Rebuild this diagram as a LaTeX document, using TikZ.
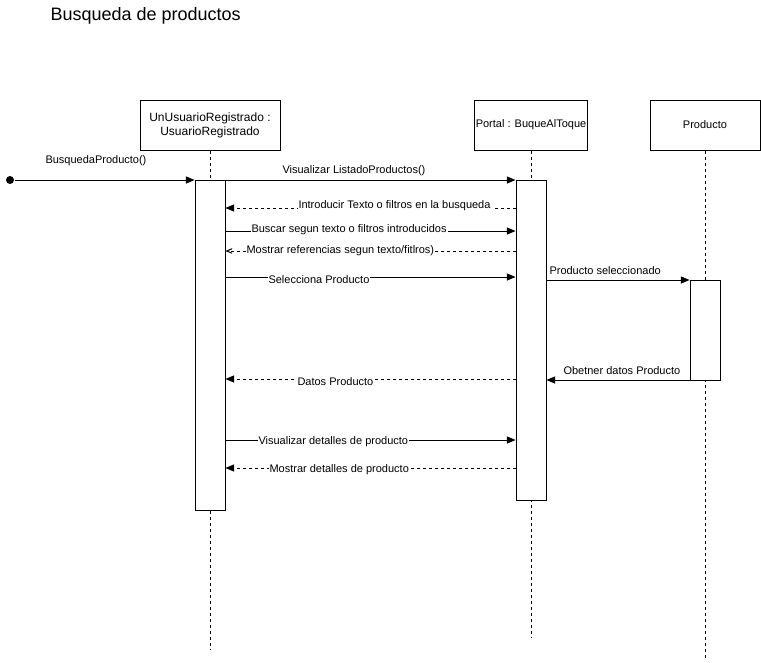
\documentclass[tikz,border=0pt]{standalone}
\usepackage{fontspec}
\setmainfont{Liberation Sans}
\usetikzlibrary{arrows}
\usetikzlibrary{shapes}

\begin{document}
\begin{tikzpicture}[x = 1pt, y = -1pt, line width = 1pt]
\tikzstyle{ObjStyle}=[shape = rectangle,
                      draw,
                      minimum height = 50pt,
                      align = center,
                      inner sep = 1pt]
\tikzstyle{ActStyle}=[shape = rectangle, draw, fill = white,
                      minimum width = 30pt, inner sep = 0pt]
\tikzstyle{LifeStyle}=[dash pattern = on 3pt off 3pt]
\tikzstyle{MsgStyle}=[-triangle 45]
\tikzstyle{RetStyle}=[-triangle 45, dash pattern = on 3pt off 3pt]
\tikzstyle{LblStyle}=[anchor = west, fill = white, inner sep = 1pt,
                      font = \fontsize{11}{13}\selectfont]
\useasboundingbox (0,0) rectangle (761,662);
\node[anchor = west, inner sep = 0pt, font = \fontsize{18}{21}\selectfont] (title) at (50,16) {Busqueda de productos};
\node[ObjStyle, minimum width = 140pt, font = \fontsize{12}{14}\selectfont] (o1) at (210,125) {UnUsuarioRegistrado :\\UsuarioRegistrado};
\node[ObjStyle, minimum width = 110pt, font = \fontsize{11}{13}\selectfont] (o2) at (531,125) {Portal : BuqueAlToque};
\node[ObjStyle, minimum width = 110pt, font = \fontsize{11}{13}\selectfont] (o3) at (705,125) {Producto};
\coordinate (e1) at (210,650);
\coordinate (e2) at (531,638);
\coordinate (e3) at (705,660);
\draw[LifeStyle] (o1) -- (e1);
\draw[LifeStyle] (o2) -- (e2);
\draw[LifeStyle] (o3) -- (e3);
\node[ActStyle, minimum height = 330pt] (a1) at (210,345) {};
\node[ActStyle, minimum height = 320pt] (a2) at (531,340) {};
\node[ActStyle, minimum height = 100pt] (a3) at (705,330) {};
\node[shape = circle, fill, inner sep = 0pt, minimum size = 8pt] (s) at (10,180) {};
% mensajes
\draw[MsgStyle] (s) -- (a1.west |- s);
\draw[MsgStyle] (a1.east |- 0,180) -- (a2.west |- 0,180);
\draw[RetStyle] (a2.west |- 0,208) -- (a1.east |- 0,208);
\draw[MsgStyle] (a1.east |- 0,231) -- (a2.west |- 0,231);
\draw[-angle 45, dash pattern = on 3pt off 3pt] (a2.west |- 0,251) -- (a1.east |- 0,251);
\draw[MsgStyle] (a1.east |- 0,277) -- (a2.west |- 0,277);
\draw[MsgStyle] (a2.east |- 0,280) -- (a3.west |- 0,280);
\draw[MsgStyle] (a3.west |- 0,380) -- (a2.east |- 0,380);
\draw[RetStyle] (a2.west |- 0,379) -- (a1.east |- 0,379);
\draw[MsgStyle] (a1.east |- 0,440) -- (a2.west |- 0,440);
\draw[RetStyle] (a2.west |- 0,468) -- (a1.east |- 0,468);
% etiquetas
\node[LblStyle, fill = none] (l0) at (44,161) {BusquedaProducto()};
\node[LblStyle, fill = none] (l1) at (281,171) {Visualizar ListadoProductos()};
\node[LblStyle] (l2) at (297,206) {Introducir Texto o filtros en la busqueda};
\node[LblStyle] (l3) at (250,230) {Buscar segun texto o filtros introducidos};
\node[LblStyle] (l4) at (245,251) {Mostrar referencias segun texto/fitlros)};
\node[LblStyle] (l5) at (267,280) {Selecciona Producto};
\node[LblStyle, fill = none] (l6) at (548,271) {Producto seleccionado};
\node[LblStyle, fill = none] (l7) at (562,371) {Obetner datos Producto};
\node[LblStyle] (l8) at (296,382) {Datos Producto};
\node[LblStyle] (l9) at (257,442) {Visualizar detalles de producto};
\node[LblStyle] (l10) at (268,470) {Mostrar detalles de producto};
\end{tikzpicture}
\end{document}
